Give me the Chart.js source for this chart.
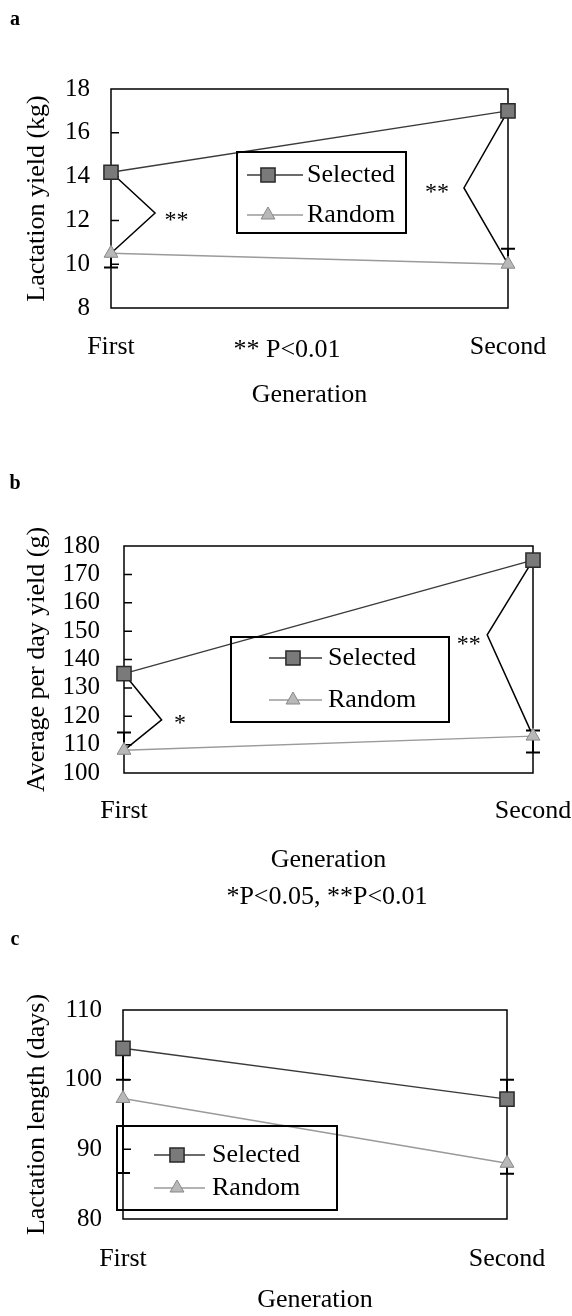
<!DOCTYPE html>
<html>
<head>
<meta charset="utf-8">
<script src="https://cdn.jsdelivr.net/npm/chart.js@4.4.0/dist/chart.umd.min.js"></script>
<style>
    html, body { margin: 0; padding: 0; background: #fff; overflow: hidden; }
    #page { position: relative; width: 572px; height: 1316px; }
    canvas { position: absolute; left: 0; }
</style>
</head>
<body>
<div id="page">
    <canvas id="chartA" width="572" height="420" style="top:0px"></canvas>
    <canvas id="chartB" width="572" height="480" style="top:440px"></canvas>
    <canvas id="chartC" width="572" height="400" style="top:916px"></canvas>
</div>
<script>
// Dados
const generations = ['First', 'Second'];

// a - lactation yield (kg)
const yieldSelected = [14.2, 17.0];
const yieldRandom = [10.5, 10.0];
const yieldSelectedErr = [[0, 0], [0, 0]];   // [menos, mais]
const yieldRandomErr = [[0.65, 0], [0, 0.7]];
const yieldTicks = [8, 10, 12, 14, 16, 18];

// b - average per day yield (g)
const dailySelected = [135, 175];
const dailyRandom = [108, 113];
const dailySelectedErr = [[0, 0], [0, 0]];
const dailyRandomErr = [[0, 6.3], [5.8, 2]];
const dailyTicks = [100, 110, 120, 130, 140, 150, 160, 170, 180];

// c - lactation length (days)
const lengthSelected = [104.5, 97.2];
const lengthRandom = [97.3, 88.0];
const lengthSelectedErr = [[4.5, 0], [0, 2.8]];
const lengthRandomErr = [[10.7, 0], [1.5, 0]];
const lengthTicks = [80, 90, 100, 110];

const FONT = '"Liberation Serif", "Times New Roman", serif';
Chart.defaults.font.family = FONT;
Chart.defaults.color = '#000';

const selectedStyle = {
    borderColor: '#3a3a3a',
    borderWidth: 1.4,
    pointStyle: 'rect',
    pointRadius: 10,
    pointBackgroundColor: '#7a7a7a',
    pointBorderColor: '#2a2a2a',
    pointBorderWidth: 1.5,
    tension: 0,
    clip: false
};

const randomStyle = {
    borderColor: '#9a9a9a',
    borderWidth: 1.4,
    pointStyle: 'triangle',
    pointRadius: 8,
    pointBackgroundColor: '#b8b8b8',
    pointBorderColor: '#888',
    pointBorderWidth: 1,
    tension: 0,
    clip: false
};

function font(size, bold) {
    return (bold ? 'bold ' : '') + size + 'px ' + FONT;
}

/**
 * Moldura, traços internos, barras de erro, chaves de significância,
 * legenda em caixa e textos soltos de cada painel
 */
function panelDecor(p) {
    return {
        id: 'panelDecor',
        beforeDatasetsDraw(chart) {
            const { ctx, chartArea: a, scales: { x, y } } = chart;
            ctx.save();
            ctx.strokeStyle = '#000';
            ctx.lineWidth = 1.5;
            ctx.strokeRect(a.left, a.top, a.right - a.left, a.bottom - a.top);

            // traços do eixo y para dentro
            ctx.beginPath();
            p.ticks.slice(1, -1).forEach(v => {
                const py = y.getPixelForValue(v);
                ctx.moveTo(a.left, py);
                ctx.lineTo(a.left + 8, py);
            });
            ctx.stroke();

            // barras de erro
            ctx.lineWidth = 2;
            chart.data.datasets.forEach(ds => {
                (ds.errors || []).forEach((e, i) => {
                    const px = x.getPixelForValue(i);
                    const lo = y.getPixelForValue(ds.data[i] - e[0]);
                    const hi = y.getPixelForValue(ds.data[i] + e[1]);
                    ctx.beginPath();
                    ctx.moveTo(px, lo);
                    ctx.lineTo(px, hi);
                    if (e[0] > 0) { ctx.moveTo(px - 7, lo); ctx.lineTo(px + 7, lo); }
                    if (e[1] > 0) { ctx.moveTo(px - 7, hi); ctx.lineTo(px + 7, hi); }
                    ctx.stroke();
                });
            });

            // chaves de significância
            ctx.lineWidth = 1.5;
            ctx.font = font(24);
            ctx.fillStyle = '#000';
            ctx.textAlign = 'center';
            ctx.textBaseline = 'middle';
            (p.brackets || []).forEach(b => {
                const px = x.getPixelForValue(b.at);
                ctx.beginPath();
                ctx.moveTo(px, y.getPixelForValue(p.selected[b.at]));
                ctx.lineTo(x.getPixelForValue(b.vertex[0]), y.getPixelForValue(b.vertex[1]));
                ctx.lineTo(px, y.getPixelForValue(p.random[b.at]));
                ctx.stroke();
                ctx.fillText(b.label, x.getPixelForValue(b.labelAt[0]), y.getPixelForValue(b.labelAt[1]));
            });
            ctx.restore();
        },
        afterDatasetsDraw(chart) {
            const { ctx } = chart;
            const lg = p.legend;
            ctx.save();
            ctx.strokeStyle = '#000';
            ctx.lineWidth = 2;
            ctx.strokeRect(lg.box[0], lg.box[1], lg.box[2], lg.box[3]);

            chart.data.datasets.forEach((ds, i) => {
                const ry = lg.rows[i];
                ctx.strokeStyle = ds.borderColor;
                ctx.lineWidth = ds.borderWidth;
                ctx.beginPath();
                ctx.moveTo(lg.line[0], ry);
                ctx.lineTo(lg.line[1], ry);
                ctx.stroke();

                ctx.fillStyle = ds.pointBackgroundColor;
                ctx.strokeStyle = ds.pointBorderColor;
                ctx.lineWidth = ds.pointBorderWidth;
                Chart.helpers.drawPoint(ctx, {
                    pointStyle: ds.pointStyle,
                    radius: ds.pointRadius,
                    rotation: 0,
                    borderWidth: ds.pointBorderWidth
                }, lg.marker, ry);

                ctx.fillStyle = '#000';
                ctx.font = font(26);
                ctx.textAlign = 'left';
                ctx.textBaseline = 'middle';
                ctx.fillText(ds.label, lg.text, ry);
            });

            ctx.textAlign = 'center';
            ctx.textBaseline = 'middle';
            (p.notes || []).forEach(n => {
                ctx.font = font(n.size, n.bold);
                ctx.fillText(n.text, n.x, n.y);
            });
            ctx.restore();
        }
    };
}

function makePanel(canvasId, p) {
    const ctx = document.getElementById(canvasId).getContext('2d');
    return new Chart(ctx, {
        type: 'line',
        data: {
            labels: generations,
            datasets: [
                Object.assign({ label: 'Selected', data: p.selected, errors: p.selectedErr }, selectedStyle),
                Object.assign({ label: 'Random', data: p.random, errors: p.randomErr }, randomStyle)
            ]
        },
        options: {
            responsive: false,
            animation: false,
            devicePixelRatio: 1,
            layout: { padding: p.padding },
            scales: {
                x: {
                    // a distância do rótulo vem do tickLength (padding empurraria a área do gráfico)
                    grid: { display: false, drawTicks: true, tickLength: p.xTickPad },
                    border: { display: false },
                    ticks: { font: { size: 26 }, padding: 0, maxRotation: 0, autoSkip: false },
                    title: { display: true, text: 'Generation', font: { size: 26 }, padding: { top: 0, bottom: 0 } },
                    afterFit: s => { s.height = p.xHeight; }
                },
                y: {
                    min: p.ticks[0],
                    max: p.ticks[p.ticks.length - 1],
                    grid: { display: false, drawTicks: false },
                    border: { display: false },
                    afterBuildTicks: s => { s.ticks = p.ticks.map(v => ({ value: v })); },
                    ticks: { font: { size: 25 }, padding: p.yTickPad, autoSkip: false },
                    title: { display: true, text: p.yTitle, font: { size: 26 }, padding: { top: 22, bottom: 0 } },
                    afterFit: s => { s.width = p.yWidth; }
                }
            },
            plugins: {
                legend: { display: false },
                tooltip: { enabled: false }
            }
        },
        plugins: [panelDecor(p)]
    });
}

makePanel('chartA', {
    selected: yieldSelected,
    random: yieldRandom,
    selectedErr: yieldSelectedErr,
    randomErr: yieldRandomErr,
    ticks: yieldTicks,
    yTitle: 'Lactation yield (kg)',
    padding: { top: 89, right: 64, left: 0, bottom: 9 },
    xHeight: 103,
    yWidth: 111,
    yTickPad: 21,
    xTickPad: 24,
    legend: { box: [237, 152, 169, 81], rows: [175, 215], line: [247, 303], marker: 268, text: 307 },
    brackets: [
        { at: 0, vertex: [0.111, 12.34], label: '**', labelAt: [0.165, 12.0] },
        { at: 1, vertex: [0.889, 13.48], label: '**', labelAt: [0.821, 13.25] }
    ],
    notes: [
        { text: 'a', x: 15, y: 20, size: 20, bold: true },
        { text: '** P<0.01', x: 287, y: 350, size: 26 }
    ]
});

makePanel('chartB', {
    selected: dailySelected,
    random: dailyRandom,
    selectedErr: dailySelectedErr,
    randomErr: dailyRandomErr,
    ticks: dailyTicks,
    yTitle: 'Average per day yield (g)',
    padding: { top: 106, right: 39, left: 0, bottom: 44 },
    xHeight: 103,
    yWidth: 124,
    yTickPad: 24,
    xTickPad: 23,
    legend: { box: [231, 197, 218, 85], rows: [218, 260], line: [269, 322], marker: 293, text: 328 },
    brackets: [
        { at: 0, vertex: [0.092, 118.7], label: '*', labelAt: [0.137, 117.5] },
        { at: 1, vertex: [0.888, 148.7], label: '**', labelAt: [0.843, 145.2] }
    ],
    notes: [
        { text: 'b', x: 15, y: 44, size: 20, bold: true },
        { text: '*P<0.05, **P<0.01', x: 327, y: 457, size: 26 }
    ]
});

makePanel('chartC', {
    selected: lengthSelected,
    random: lengthRandom,
    selectedErr: lengthSelectedErr,
    randomErr: lengthRandomErr,
    ticks: lengthTicks,
    yTitle: 'Lactation length (days)',
    padding: { top: 94, right: 65, left: 0, bottom: 0 },
    xHeight: 97,
    yWidth: 123,
    yTickPad: 21,
    xTickPad: 25,
    legend: { box: [117, 210, 220, 84], rows: [239, 272], line: [154, 205], marker: 177, text: 212 },
    brackets: [],
    notes: [
        { text: 'c', x: 15, y: 24, size: 20, bold: true }
    ]
});
</script>
</body>
</html>
